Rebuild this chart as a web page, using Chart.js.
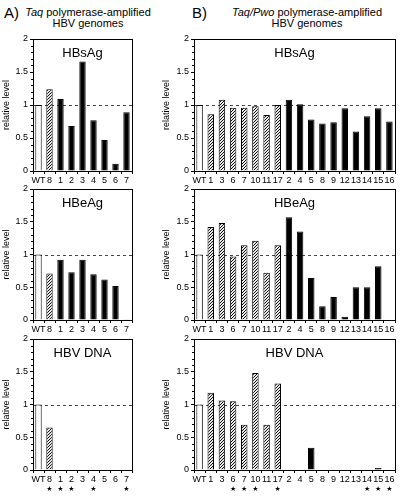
<!DOCTYPE html>
<html>
<head>
<meta charset="utf-8">
<script src="https://cdn.jsdelivr.net/npm/chart.js@4.4.1/dist/chart.umd.min.js"></script>
<style>
body { margin: 0; background: #fff; font-family: "Liberation Sans", Arial, sans-serif; }
#wrap { position: relative; width: 403px; height: 497px; overflow: hidden; }
canvas { position: absolute; }
.hd { position: absolute; font-size: 11px; line-height: 11px; text-align: center; color: #000; }
.lt { position: absolute; font-size: 15px; color: #000; }
</style>
</head>
<body>
<div id="wrap">
  <div class="lt" style="left:4px;top:4px">A)</div>
  <div class="hd" style="left:22px;top:7px;width:132px"><i>Taq</i> polymerase-amplified<br>HBV genomes</div>
  <div class="lt" style="left:192px;top:4px">B)</div>
  <div class="hd" style="left:232px;top:7px;width:150px"><i>Taq/Pwo</i> polymerase-amplified<br>HBV genomes</div>
  <canvas id="aS" width="140" height="163" style="left:0;top:30px"></canvas>
  <canvas id="aE" width="140" height="163" style="left:0;top:180px"></canvas>
  <canvas id="aD" width="140" height="167" style="left:0;top:330px"></canvas>
  <canvas id="bS" width="243" height="163" style="left:160px;top:30px"></canvas>
  <canvas id="bE" width="243" height="163" style="left:160px;top:180px"></canvas>
  <canvas id="bD" width="243" height="167" style="left:160px;top:330px"></canvas>
</div>
<script>
'use strict';

// Taq panel (A)
const labelsA = ['WT', '8', '1', '2', '3', '4', '5', '6', '7'];
const hbsagA = [1.0, 1.24, 1.09, 0.68, 1.66, 0.77, 0.47, 0.11, 0.89];
const hbeagA = [1.0, 0.71, 0.92, 0.73, 0.92, 0.70, 0.62, 0.52, 0.01];
const dnaA = [1.0, 0.65, 0, 0, 0, 0, 0, 0, 0];
const starsA = ['8', '1', '2', '4', '7'];

// Taq/Pwo panel (B)
const labelsB = ['WT', '1', '3', '6', '7', '10', '11', '17', '2', '4', '5', '8', '9', '12', '13', '14', '15', '16'];
const hbsagB = [1.0, 0.86, 1.08, 0.96, 0.96, 0.98, 0.85, 1.0, 1.08, 1.01, 0.78, 0.72, 0.74, 0.95, 0.60, 0.83, 0.95, 0.75];
const hbeagB = [1.0, 1.42, 1.48, 0.97, 1.14, 1.21, 0.72, 1.14, 1.57, 1.35, 0.64, 0.21, 0.35, 0.05, 0.50, 0.50, 0.82, 0];
const dnaB = [1.0, 1.18, 1.06, 1.05, 0.69, 1.48, 0.69, 1.32, 0, 0, 0.34, 0, 0, 0, 0, 0, 0.03, 0];
const starsB = ['6', '7', '10', '17', '14', '15', '16'];

const FONT = '"Liberation Sans", Arial, sans-serif';

// diagonal hatch tile, 3px period
let hatchCanvas = document.createElement('canvas');
hatchCanvas.width = 3;
hatchCanvas.height = 3;
let hc = hatchCanvas.getContext('2d');
hc.fillStyle = '#e8e8e8';
hc.fillRect(0, 0, 3, 3);
hc.fillStyle = '#111';
hc.fillRect(0, 2, 1, 1);
hc.fillRect(1, 1, 1, 1);
hc.fillRect(2, 0, 1, 1);

const deco = {
    id: 'deco',
    beforeDatasetsDraw(chart) {
        let ctx = chart.ctx, a = chart.chartArea, y = chart.scales.y;
        let py = Math.round(y.getPixelForValue(1)) + 0.5;
        ctx.save();
        ctx.strokeStyle = '#444';
        ctx.lineWidth = 1;
        ctx.setLineDash([3, 3]);
        ctx.beginPath();
        ctx.moveTo(a.left, py);
        ctx.lineTo(a.right, py);
        ctx.stroke();
        ctx.restore();
    },
    afterDraw(chart, args, opts) {
        let ctx = chart.ctx, a = chart.chartArea, x = chart.scales.x, y = chart.scales.y;
        ctx.save();
        ctx.strokeStyle = '#000';
        ctx.lineWidth = 1;
        ctx.strokeRect(Math.round(a.left) + 0.5, Math.round(a.top) + 0.5,
            Math.round(a.right - a.left), Math.round(a.bottom - a.top));
        // minor ticks on the y axis
        ctx.beginPath();
        for (let i = 1; i < 20; i++) {
            if (i % 5 === 0) continue;
            let py = Math.round(y.getPixelForValue(i / 10)) + 0.5;
            ctx.moveTo(a.left - 2, py);
            ctx.lineTo(a.left, py);
        }
        ctx.stroke();
        ctx.fillStyle = '#000';
        ctx.font = '13px ' + FONT;
        ctx.textAlign = 'center';
        ctx.textBaseline = 'middle';
        ctx.fillText(opts.title, (a.left + a.right) / 2, a.top + 14);
        if (opts.stars) {
            ctx.font = '7px "DejaVu Sans"';
            let labels = chart.data.labels;
            for (let s of opts.stars) {
                let idx = labels.indexOf(s);
                ctx.fillText('\u2605', x.getPixelForValue(idx), a.bottom + 19);
            }
        }
        ctx.restore();
    }
};

function makePanel(id, labels, values, nHatch, title, stars, yWidth, padTop, xHeight) {
    let el = document.getElementById(id);
    let pattern = el.getContext('2d').createPattern(hatchCanvas, 'repeat');
    let fills = labels.map((l, i) => i === 0 ? '#fff' : (i <= nHatch ? pattern : '#000'));

    new Chart(el, {
        type: 'bar',
        data: {
            labels: labels,
            datasets: [{
                data: values,
                backgroundColor: fills,
                borderColor: '#000',
                borderWidth: 1,
                barPercentage: 0.58,
                categoryPercentage: 1
            }]
        },
        plugins: [deco],
        options: {
            responsive: false,
            animation: false,
            devicePixelRatio: 1,
            layout: { padding: { top: padTop, right: 8, left: 0, bottom: 0 } },
            plugins: {
                legend: { display: false },
                tooltip: { enabled: false },
                deco: { title: title, stars: stars }
            },
            scales: {
                x: {
                    grid: { display: true, drawOnChartArea: false, tickLength: 3, color: '#000', offset: true },
                    border: { display: false },
                    ticks: { color: '#000', font: { family: FONT, size: 9 }, padding: 1, maxRotation: 0, autoSkip: false },
                    afterFit: s => { s.height = xHeight; }
                },
                y: {
                    min: 0,
                    max: 2,
                    grid: { display: true, drawOnChartArea: false, tickLength: 3, color: '#000' },
                    border: { display: false },
                    ticks: {
                        stepSize: 0.5, color: '#000', font: { family: FONT, size: 9 }, padding: 2,
                        callback: v => String(v)
                    },
                    title: { display: true, text: 'relative level', color: '#000', font: { family: FONT, size: 9 }, padding: 1 },
                    afterFit: s => { s.width = yWidth; }
                }
            }
        }
    });
}

makePanel('aS', labelsA, hbsagA, 1, 'HBsAg', null, 33, 9, 22);
makePanel('aE', labelsA, hbeagA, 1, 'HBeAg', null, 33, 9, 23);
makePanel('aD', labelsA, dnaA, 1, 'HBV DNA', starsA, 33, 9, 27);
makePanel('bS', labelsB, hbsagB, 7, 'HBsAg', null, 34, 9, 22);
makePanel('bE', labelsB, hbeagB, 7, 'HBeAg', null, 34, 9, 23);
makePanel('bD', labelsB, dnaB, 7, 'HBV DNA', starsB, 34, 9, 27);
</script>
</body>
</html>
